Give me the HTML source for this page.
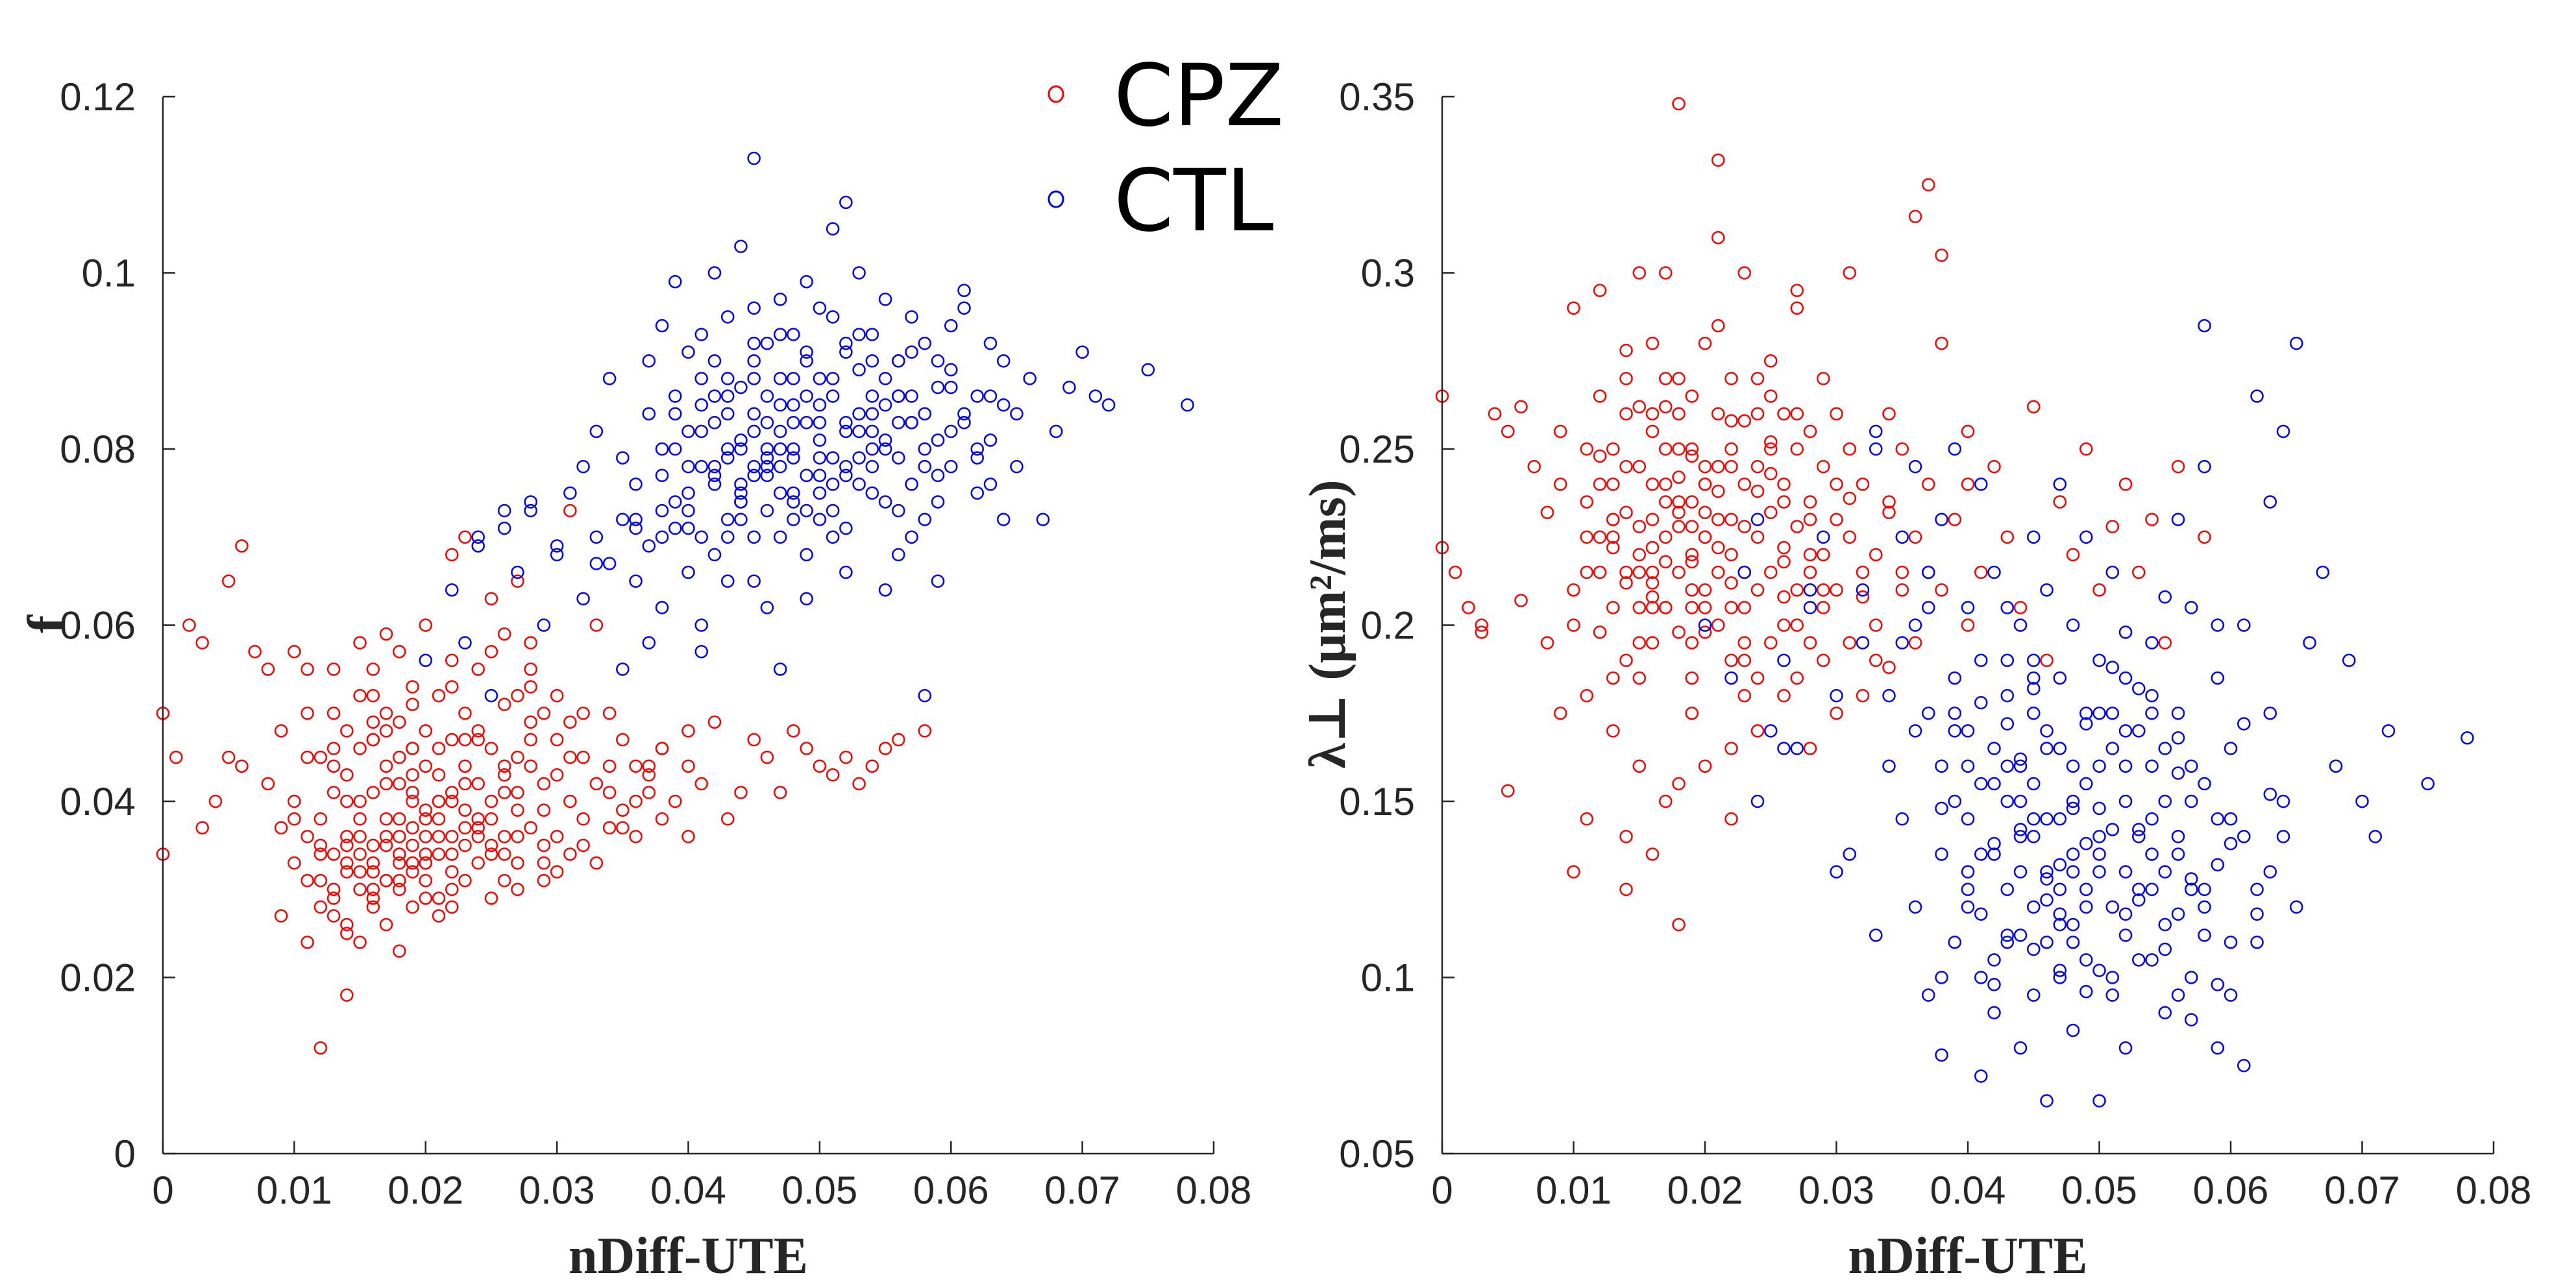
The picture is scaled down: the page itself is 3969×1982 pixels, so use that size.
<!DOCTYPE html>
<html><head><meta charset="utf-8"><style>
html,body{margin:0;padding:0;background:#fff;}
svg{display:block;}
</style></head><body>
<svg id="chart" width="3969" height="1982" viewBox="0 0 3969 1982" xmlns="http://www.w3.org/2000/svg"></svg>
<script>
// ---- data (units: x,f,lambda in 1e-3) ----
const cpzX=[0,0,1,2,3,4,5,6,6,7, 8,8,9,9,10,10,10,11,11,11, 12,12,12,12,13,13,13,13,13,14, 14,14,14,14,14,15,15,15,15,15, 15,16,16,16,16,16,16,17,17,17, 17,17,17,18,18,18,18,18,18,18, 19,19,19,19,19,19,20,20,20,20, 20,20,21,21,21,21,21,22,22,22, 22,22,22,23,23,23,23,23,24,24, 24,24,24,25,25,25,25,26,26,26, 26,27,27,27,27,28,28,28,29,29, 29,30,30,30,31,31,31,32,32,33, 33,34,34,35,35,36,36,37,38,38, 39,40,40,41,42,43,44,45,46,47, 48,49,50,51,52,53,54,55,56,58, 12,15,17,19,21,23,25,27,29,16, 14,16,18,20,22,24,26,28,30,33, 13,15,16,17,18,19,20,21,22,19, 18,21,37,36,38,11,5,3,31,27, 10,11,12,13,14,15,16,17,18,19, 20,21,22,23,24,25,26,27,28,29, 11,13,15,17,19,21,23,25,27,14, 16,18,20,22,24,26,28,30,32,34, 9,12,14,17,20,23,26,29,32,35, 13,16,19,22,25,28,31,34,37,40];
const cpzF=[34,50,45,60,37,40,45,69,44,57, 55,42,27,48,33,40,57,24,45,36, 31,38,45,12,29,34,41,50,55,26, 33,36,43,48,18,30,32,38,46,52, 58,28,33,35,41,47,55,26,31,36, 44,50,59,23,30,34,38,42,49,57, 28,33,37,41,46,53,31,36,39,44, 48,60,29,34,38,43,52,32,36,41, 47,56,68,35,39,44,50,70,33,37, 42,48,55,34,40,46,63,36,43,51, 59,33,39,45,52,37,44,58,35,42, 50,36,43,47,34,40,49,38,45,33, 42,37,44,39,47,36,44,41,38,46, 40,36,44,42,49,38,41,47,45,41, 48,46,44,43,45,42,44,46,47,48, 28,24,48,35,27,31,35,30,33,47, 25,30,34,29,40,47,44,49,52,60, 30,34,32,35,33,32,38,36,34,40, 36,40,44,40,46,55,65,58,73,65, 38,31,35,27,40,36,29,42,31,46, 33,40,30,47,38,29,41,36,53,31, 50,44,40,38,43,46,42,38,41,35, 52,45,34,28,36,31,47,32,50,41, 37,34,32,31,33,37,34,39,35,37, 46,49,51,53,57,55,45,50,43,48];
const cpzLam=[222,265,215,205,200,260,153,262,207,245, 232,195,175,240,130,210,290,250,180,225, 240,215,198,295,225,250,170,205,230,260, 215,232,190,270,125,228,245,205,185,300, 160,222,240,260,212,195,280,235,218,250, 205,270,150,228,242,215,260,198,232,115, 235,220,248,205,265,185,225,240,210,280, 198,232,260,215,245,200,285,230,250,220, 190,270,165,240,215,258,205,300,225,245, 210,270,185,232,250,215,195,240,222,260, 200,228,250,210,290,235,215,255,220,245, 205,230,260,210,225,195,250,215,240,220, 200,260,235,215,250,225,195,240,210,280, 230,255,200,215,245,225,205,262,190,235, 220,250,210,228,240,215,230,195,245,225, 265,195,300,175,310,180,265,295,190,205, 140,135,155,160,145,170,180,165,175,190, 230,220,215,240,235,210,225,230,205,250, 348,332,325,316,305,145,255,198,300,185, 200,235,225,185,245,215,255,205,270,195, 245,222,258,190,238,275,208,260,230,210, 215,240,262,225,218,238,228,252,200,278, 230,250,205,245,260,218,195,240,208,232, 255,248,212,262,240,195,235,270,180,210, 222,208,228,212,243,220,236,188,215,240];
const ctlX=[20,22,23,24,25,26,27,28,29,30, 31,32,32,33,33,34,34,35,35,36, 36,37,37,37,38,38,38,38,39,39, 39,40,40,40,40,41,41,41,41,41, 42,42,42,42,43,43,43,43,43,44, 44,44,44,45,45,45,45,45,45,46, 46,46,46,46,47,47,47,47,47,48, 48,48,48,49,49,49,49,49,50,50, 50,50,51,51,51,51,52,52,52,52, 53,53,53,54,54,54,55,55,55,56, 56,56,57,57,57,58,58,59,59,60, 60,61,61,62,62,63,63,64,65,66, 67,68,69,70,71,72,75,78,44,47, 38,40,42,44,46,48,50,52,54,56, 39,43,45,48,50,53,55,57,59,62, 35,37,41,45,49,52,55,59,58,64, 24,26,28,30,33,36,39,42,61,65, 44,46,48,50,52,54,56,58,47,51, 40,41,43,44,45,47,48,49,51,53, 54,55,56,57,58,59,60,62,63,45, 42,44,46,48,50,52,54,56,43,49, 36,38,40,42,47,51,53,57,59,61, 46,50,53,55,58,60,41,39,57,63, 43,45,47,49,51,52,54,56,60,64];
const ctlF=[56,64,58,69,52,71,66,73,60,68, 75,63,78,70,82,67,88,72,79,65, 76,69,84,90,62,73,80,94,71,86, 99,66,75,82,91,70,78,85,93,57, 68,76,83,100,72,79,88,95,65,74, 81,87,103,70,77,84,90,96,113,73, 79,86,92,62,75,82,88,97,55,72, 80,85,93,77,83,90,99,68,75,81, 88,96,73,79,86,105,71,83,91,108, 76,84,100,78,86,93,74,81,97,68, 83,90,76,86,95,80,92,74,87,78, 89,83,96,75,86,81,92,85,78,88, 72,82,87,91,86,85,89,85,75,78, 70,73,77,80,78,75,79,82,84,86, 84,86,88,83,85,82,80,83,81,79, 55,58,60,65,63,66,64,65,52,72, 70,73,74,69,67,71,74,78,98,84, 76,80,74,83,77,80,86,72,93,70, 78,88,80,72,92,85,79,86,76,89, 82,88,79,91,84,77,94,80,86,82, 90,74,83,88,77,92,75,90,70,73, 72,77,71,86,70,88,93,83,90,84, 77,72,79,85,78,82,82,80,70,76, 84,78,80,91,95,78,90,73,87,90];
const ctlLam=[200,185,215,230,170,190,165,205,225,180, 135,210,195,250,112,160,180,225,145,200, 120,175,95,215,160,135,230,78,185,110, 250,145,205,125,170,100,155,190,240,72, 135,165,215,90,180,125,150,205,110,140, 200,160,80,120,175,145,225,95,190,130, 165,110,210,65,145,185,125,100,240,160, 135,200,85,175,120,155,225,105,140,190, 65,160,120,175,95,215,150,130,185,80, 140,105,170,195,125,160,90,150,115,230, 135,175,100,160,205,125,245,145,185,110, 165,200,140,125,265,175,235,150,280,195, 215,160,190,150,140,170,155,168,130,115, 100,120,138,112,128,148,135,118,105,95, 150,160,140,130,102,142,165,125,80,110, 195,205,178,182,172,198,208,200,285,255, 150,165,210,130,255,245,170,98,75,120, 150,170,110,130,160,175,140,120,102,188, 160,118,172,142,108,132,150,96,165,122, 145,108,168,128,155,98,138,118,152,185, 105,162,145,115,175,112,135,158,190,138, 170,148,130,155,118,100,125,88,132,172, 122,148,182,130,112,145,135,175,150,130, 112,155,165,125,142,170,180,118,95,140];
const xTicks=[0,0.01,0.02,0.03,0.04,0.05,0.06,0.07,0.08];
const xTickLabels=["0","0.01","0.02","0.03","0.04","0.05","0.06","0.07","0.08"];
const fTicks=[0,0.02,0.04,0.06,0.08,0.1,0.12];
const fTickLabels=["0","0.02","0.04","0.06","0.08","0.1","0.12"];
const lamTicks=[0.05,0.1,0.15,0.2,0.25,0.3,0.35];
const lamTickLabels=["0.05","0.1","0.15","0.2","0.25","0.3","0.35"];

const NS="http://www.w3.org/2000/svg";
const svg=document.getElementById('chart');
function mk(tag,attrs,parent){const e=document.createElementNS(NS,tag);for(const k in attrs)e.setAttribute(k,attrs[k]);(parent||svg).appendChild(e);return e;}
const AX="#262626";
const Y0=1778,Y1=149;
function panel(name,px0,px1,ymin,ymax,yT,yTL,xVals,series){
  const g=mk('g',{});
  
  
  const sx=v=>px0+(v-0)/(0.08)*(px1-px0);
  const sy=v=>Y0-(v-ymin)/(ymax-ymin)*(Y0-Y1);
  series.forEach(s=>{
    const sg=mk('g',{},g);
    
    
    for(let i=0;i<s.x.length;i++){
      const c=mk('circle',{cx:sx(s.x[i]/1000),cy:sy(s.y[i]/1000),r:9,fill:'none',stroke:s.color,'stroke-width':2.5},sg);
      
      
    }
  });
  const xa=mk('line',{x1:px0,y1:Y0,x2:px1,y2:Y0,stroke:AX,'stroke-width':2.5},g);
  
  
  const ya=mk('line',{x1:px0,y1:Y0,x2:px0,y2:Y1,stroke:AX,'stroke-width':2.5},g);
  
  
  xVals.forEach((v,i)=>{
    const x=sx(v);
    mk('line',{x1:x,y1:Y0,x2:x,y2:Y0-19,stroke:AX,'stroke-width':2.5},g);
    const t=mk('text',{x:x,y:Y0+77,'text-anchor':'middle','font-size':60,fill:AX,'font-family':'Liberation Sans, sans-serif'},g);
    t.textContent=xTickLabels[i];
    
    
  });
  yT.forEach((v,i)=>{
    const y=sy(v);
    mk('line',{x1:px0,y1:y,x2:px0+19,y2:y,stroke:AX,'stroke-width':2.5},g);
    const t=mk('text',{x:px0-42,y:y+21,'text-anchor':'end','font-size':60,fill:AX,'font-family':'Liberation Sans, sans-serif'},g);
    t.textContent=yTL[i];
    
    
  });
  const xl=mk('text',{x:(px0+px1)/2,y:1962,'text-anchor':'middle','font-size':80,'font-weight':'bold',fill:AX,'font-family':'Liberation Serif, serif'},g);
  xl.textContent='nDiff-UTE';
  
  
  return g;
}
panel('left-panel',251,1870,0,0.12,fTicks,fTickLabels,xTicks,[
  {name:'cpz-series',x:cpzX,y:cpzF,color:'#ff0000'},
  {name:'ctl-series',x:ctlX,y:ctlF,color:'#0000ff'}]);
panel('right-panel',2222,3842,0.05,0.35,lamTicks,lamTickLabels,xTicks,[
  {name:'cpz-series',x:cpzX,y:cpzLam,color:'#ff0000'},
  {name:'ctl-series',x:ctlX,y:ctlLam,color:'#0000ff'}]);

const fl=mk('text',{x:0,y:0,transform:'translate(100,962) rotate(-90)','text-anchor':'middle','font-size':84,'font-weight':'bold',fill:AX,'font-family':'Liberation Serif, serif'});
fl.textContent='f';


const ll=mk('text',{x:0,y:0,transform:'translate(2072,962) rotate(-90)','text-anchor':'middle','font-size':80,'font-weight':'bold',fill:AX,'font-family':'Liberation Serif, DejaVu Serif, serif'});
ll.textContent='λ⊥ (μm²/ms)';



const lg=mk('g',{});


[['CPZ','#ff0000',145],['CTL','#0000ff',307]].forEach(([lab,col,y])=>{
  const e=mk('g',{},lg);
  
  
  mk('ellipse',{cx:1627,cy:y,rx:11,ry:12,fill:'none',stroke:col,'stroke-width':3},e);
  const t=mk('text',{x:1716,y:y+48,'font-size':132,fill:'#000','font-family':'DejaVu Sans, Liberation Sans, sans-serif'},e);
  t.textContent=lab;
});
</script>
</body></html>
